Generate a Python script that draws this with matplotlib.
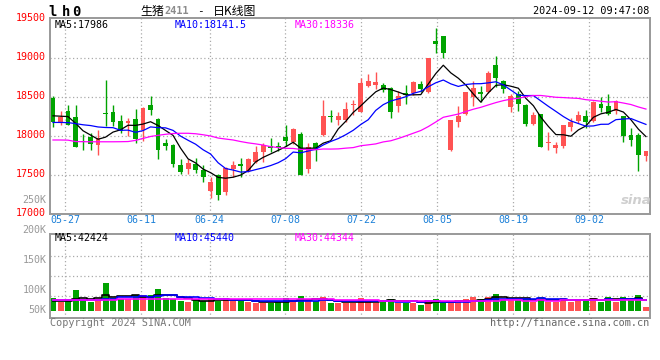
import matplotlib
matplotlib.use("Agg")
import matplotlib.pyplot as plt
import numpy as np
import pandas as pd
from matplotlib.transforms import ScaledTranslation

# ---------------- data ----------------
dates = ["05-23", "05-24", "05-27", "05-28", "05-29", "05-30", "05-31",
         "06-03", "06-04", "06-05", "06-06", "06-07", "06-11", "06-12", "06-13", "06-14",
         "06-17", "06-18", "06-19", "06-20", "06-21", "06-24", "06-25", "06-26", "06-27", "06-28",
         "07-01", "07-02", "07-03", "07-04", "07-05", "07-08", "07-09", "07-10", "07-11", "07-12",
         "07-15", "07-16", "07-17", "07-18", "07-19", "07-22", "07-23", "07-24", "07-25", "07-26",
         "07-29", "07-30", "07-31",
         "08-01", "08-02", "08-05", "08-06", "08-07", "08-08", "08-09", "08-12", "08-13", "08-14",
         "08-15", "08-16", "08-19", "08-20", "08-21", "08-22", "08-23", "08-26", "08-27", "08-28",
         "08-29", "08-30",
         "09-02", "09-03", "09-04", "09-05", "09-06", "09-09", "09-10", "09-11", "09-12"]

opens = [18487, 18158, 18316, 18239, 17932, 17985, 17880, 18291, 18308, 18188,
         18160, 18214, 18073, 18393, 18214, 17910, 17880, 17624, 17573, 17637,
         17560, 17290, 17496, 17282, 17573, 17637, 17547, 17658, 17795, 17872,
         17872, 17979, 17923, 18021, 17573, 17900, 18009, 18256, 18201, 18201,
         18393, 18308, 18641, 18650, 18650, 18615, 18385, 18543, 18543, 18662,
         18556, 19214, 19278, 17816, 18180, 18274, 18500, 18556, 18556, 18906,
         18701, 18372, 18530, 18393, 18154, 18278, 17902, 17846, 17872, 18111,
         18188, 18256, 18188, 18402, 18380, 18316, 18252, 18009, 18009, 17744]

highs = [18513, 18316, 18394, 18394, 18018, 18030, 18073, 18714, 18390, 18265,
         18230, 18340, 18370, 18513, 18230, 17960, 17895, 17700, 17701, 17710,
         17625, 17475, 17505, 17603, 17675, 17718, 17718, 17872, 17902, 17966,
         17923, 18137, 18094, 18043, 17900, 17923, 18457, 18329, 18308, 18427,
         18457, 18744, 18786, 18812, 18671, 18620, 18573, 18650, 18701, 18701,
         18995, 19376, 19280, 18205, 18385, 18560, 18701, 18641, 18829, 19021,
         18714, 18534, 18573, 18400, 18299, 18280, 18043, 17923, 18140, 18222,
         18316, 18329, 18445, 18500, 18530, 18457, 18256, 18094, 18030, 17806]

lows = [18115, 18137, 18137, 17851, 17816, 17816, 17752, 18124, 18128, 18030,
        17990, 17900, 17932, 18265, 17705, 17815, 17605, 17505, 17508, 17517,
        17410, 17205, 17175, 17239, 17474, 17474, 17540, 17645, 17667, 17795,
        17803, 17872, 17889, 17496, 17528, 17675, 18000, 18180, 18137, 18180,
        18265, 18300, 18628, 18598, 18556, 18231, 18308, 18402, 18521, 18564,
        18543, 19064, 19000, 17803, 18115, 18265, 18385, 18427, 18543, 18628,
        18543, 18299, 18316, 18128, 18137, 17850, 17816, 17773, 17846, 18060,
        18158, 18094, 18171, 18308, 18265, 18274, 17915, 17872, 17547, 17679]

closes = [18171, 18235, 18140, 17855, 17915, 17897, 17966, 18274, 18180, 18060,
          18190, 17957, 18359, 18329, 17820, 17870, 17640, 17540, 17645, 17560,
          17475, 17410, 17240, 17590, 17624, 17611, 17701, 17795, 17880, 17846,
          17838, 17932, 18085, 17496, 17850, 17838, 18252, 18240, 18252, 18342,
          18406, 18671, 18701, 18692, 18585, 18308, 18513, 18521, 18692, 18598,
          18992, 19180, 19056, 18201, 18256, 18556, 18607, 18530, 18799, 18735,
          18598, 18509, 18402, 18150, 18265, 17859, 17919, 17880, 18137, 18171,
          18265, 18171, 18436, 18359, 18274, 18445, 18000, 17944, 17752, 17803]

volumes = [48400, 40100, 44250, 69250, 44250, 40100, 44250, 87600, 48400, 46750,
           46750, 55900, 55900, 55900, 71750, 48400, 46750, 41750, 40100, 44250,
           41750, 46750, 42600, 48400, 44250, 41750, 40100, 37600, 37600, 37600,
           40100, 48400, 42600, 54250, 41750, 41750, 50900, 35900, 35900, 37600,
           35900, 48400, 41750, 37600, 44250, 46750, 37600, 37600, 37600, 31750,
           44250, 46750, 35900, 35900, 41750, 46750, 51750, 46750, 51750, 59250,
           46750, 44250, 44250, 46750, 40100, 51750, 40100, 40100, 49250, 40100,
           46750, 46750, 49250, 40100, 51750, 40100, 51750, 44250, 56750, 26750]

# moving-average values for the first candles
# (their windows reach back before the visible range)
ma5_head = [18255, 18250, 18245, 18160]
ma10_head = [18170, 18170, 18168, 18155, 18140, 18130, 18112, 18105, 18103]
ma30_head = [17945, 17945, 17943, 17925, 17923, 17922, 17922, 17922, 17922, 17923,
             17925, 17940, 17965, 17990, 18005, 18018, 18028, 18031, 18031, 18025,
             18012, 17996, 17970, 17957, 17945, 17925, 17908, 17895, 17880]
vol_ma5_head = [42000, 41800, 41800, 46000]
vol_ma10_head = [44300, 44300, 44300, 44300, 44300, 44300, 44300, 46000, 47000]
vol_ma30_head = [44500, 44500, 44600, 44800, 44800, 44900, 45000, 45400, 45500, 45600,
                 45800, 46000, 46200, 46400, 46800, 47000, 47100, 47200, 47200, 47300,
                 47300, 47400, 47400, 47500, 47600, 47600, 47700, 47800, 47900]

price_ticks = [17000, 17500, 18000, 18500, 19000, 19500]
date_ticks = ["05-27", "06-11", "06-24", "07-08", "07-22", "08-05", "08-19", "09-02"]
vol_labels = ["250K", "200K", "150K", "100K", "50K"]
price_ma_labels = ["MA5:17986", "MA10:18141.5", "MA30:18336"]
vol_ma_labels = ["MA5:42424", "MA10:45440", "MA30:44344"]
title_parts = ["生猪", "2411", "-", "日K线图"]
stamp = "2024-09-12 09:47:08"
symbol = "lh0"
copyright_text = "Copyright 2024 SINA.COM"
url_text = "http://finance.sina.com.cn"

# ---------------- helpers ----------------
W, H = 660, 360
RED = "#FF5353"
GREEN = "#00A300"
GRID = "#AAAAAA"
FRAME = "#999999"
MONO = "DejaVu Sans Mono"
CJK = ["Noto Sans CJK SC", "DejaVu Sans"]


def fx(px):
    return px / W


def fy(py):
    return 1 - py / H


def rolling_with_head(values, n, head):
    s = pd.Series(values, dtype=float).rolling(n).mean().to_numpy()
    s[:len(head)] = head
    return s


x = np.arange(len(dates))
o = np.array(opens, float)
c = np.array(closes, float)
hi = np.array(highs, float)
lo = np.array(lows, float)
vol = np.array(volumes, float)
up = c >= o
colors = np.where(up, RED, GREEN)

ma5 = rolling_with_head(closes, 5, ma5_head)
ma10 = rolling_with_head(closes, 10, ma10_head)
ma30 = rolling_with_head(closes, 30, ma30_head)
vma5 = rolling_with_head(volumes, 5, vol_ma5_head)
vma10 = rolling_with_head(volumes, 10, vol_ma10_head)
vma30 = rolling_with_head(volumes, 30, vol_ma30_head)

tick_idx = np.array([dates.index(d) for d in date_ticks], float)
tick_pos = tick_idx - 0.36 + (tick_idx - 2) * 0.0112

fig = plt.figure(figsize=(6.6, 3.6), dpi=100)
fig.patch.set_facecolor("white")

L, R = 50.5, 650.0
ax = fig.add_axes([fx(L), fy(213.7), (R - L) / W, (213.7 - 18.3) / H])
axv = fig.add_axes([fx(L), fy(318.3), (R - L) / W, (318.3 - 234.3) / H])
xlim = (-0.333, 79.54)

# ---------------- price panel ----------------
for yv in price_ticks[1:-1]:
    ax.axhline(yv, color=GRID, lw=0.9, ls=(0, (1, 2)), zorder=0)
for xv in tick_pos:
    ax.axvline(xv, color=GRID, lw=0.9, ls=(0, (1, 2)), zorder=0)

ax.vlines(x, lo, hi, colors=colors, lw=1.0, zorder=2)
body = np.maximum(np.abs(c - o), 14)
ax.bar(x, body, bottom=np.minimum(o, c), width=0.64, color=colors, linewidth=0, zorder=3)

ax.plot(x, ma5, color="black", lw=0.9, zorder=4)
ax.plot(x, ma10, color="#0000FF", lw=0.9, zorder=4)
ax.plot(x, ma30, color="#FF00FF", lw=0.9, zorder=4)

ax.set_xlim(*xlim)
ax.set_ylim(17000, 19505)
ax.set_yticks(price_ticks)
ax.set_yticklabels([str(p) for p in price_ticks], color="#FF0000", fontfamily=MONO, fontsize=7.2)
ax.set_xticks(tick_pos)
ax.set_xticklabels(date_ticks, color="#1C80D8", fontfamily=MONO, fontsize=7.2)
ax.tick_params(axis="both", length=0)
ax.tick_params(axis="y", pad=3.5)
ax.tick_params(axis="x", pad=1.0)
off = ScaledTranslation(0, 0.02, fig.dpi_scale_trans)
for lbl in ax.get_yticklabels():
    lbl.set_transform(lbl.get_transform() + off)
for sp in ax.spines.values():
    sp.set_color(FRAME)
    sp.set_linewidth(1.4)

# ---------------- volume panel ----------------
for yv in (55000, 105000, 155000):
    axv.axhline(yv, color=GRID, lw=0.9, ls=(0, (1, 2)), zorder=0)
for xv in tick_pos:
    axv.axvline(xv, color=GRID, lw=0.9, ls=(0, (1, 2)), zorder=0)
vbase = 17500
axv.bar(x, vol - vbase, bottom=vbase, width=0.8, color=colors, linewidth=0, zorder=2)
axv.plot(x, vma5, color="black", lw=1.2, drawstyle="steps-mid", zorder=3)
axv.plot(x, vma10, color="#0000FF", lw=1.2, drawstyle="steps-mid", zorder=3)
axv.plot(x, vma30, color="#FF00FF", lw=1.2, drawstyle="steps-mid", zorder=3)
axv.set_xlim(*xlim)
axv.set_ylim(-1500, 208500)
axv.set_xticks([])
axv.set_yticks([])
for sp in axv.spines.values():
    sp.set_color(FRAME)
    sp.set_linewidth(1.4)

# ---------------- texts ----------------
for ch, cx in zip(symbol, (52.5, 66, 76.5)):
    fig.text(fx(cx), fy(11.5), ch, ha="center", va="center", fontfamily=MONO,
             fontweight="bold", fontsize=10)

fig.text(fx(140), fy(11), title_parts[0], ha="left", va="center", fontfamily=CJK, fontsize=8.6)
fig.text(fx(164.5), fy(11.3), title_parts[1], ha="left", va="center", fontfamily=MONO,
         fontweight="bold", fontsize=7.4, color="#8C8C8C")
fig.text(fx(200), fy(11), title_parts[2], ha="center", va="center", fontfamily=MONO, fontsize=8)
fig.text(fx(212.5), fy(11), title_parts[3], ha="left", va="center", fontfamily=CJK, fontsize=8.6)

fig.text(fx(649), fy(11.2), stamp, ha="right", va="center", fontfamily=MONO, fontsize=7.3)

for txt, px, col in zip(price_ma_labels, (55, 175, 295), ("black", "#0000FF", "#FF00FF")):
    fig.text(fx(px), fy(25), txt, ha="left", va="center", fontfamily=MONO, fontsize=7.2, color=col)
for txt, px, col in zip(vol_ma_labels, (55, 175, 295), ("black", "#0000FF", "#FF00FF")):
    fig.text(fx(px), fy(238.3), txt, ha="left", va="center", fontfamily=MONO, fontsize=7.2, color=col)

for txt, py in zip(vol_labels, (200.3, 230.3, 260.3, 290.3, 310.3)):
    fig.text(fx(46.5), fy(py), txt, ha="right", va="center", fontfamily=MONO, fontsize=7.2,
             color="#999999")

fig.text(fx(50), fy(322.5), copyright_text, ha="left", va="center", fontfamily=MONO,
         fontsize=7.3, color="#777777")
fig.text(fx(649.5), fy(322.5), url_text, ha="right", va="center", fontfamily=MONO,
         fontsize=7.3, color="#666666")

fig.text(fx(636), fy(200), "sina", ha="center", va="center", fontfamily="DejaVu Sans",
         fontstyle="italic", fontweight="bold", fontsize=9.5, color="#CFCFCF")

fig.savefig("out.png", dpi=100, facecolor="white")
